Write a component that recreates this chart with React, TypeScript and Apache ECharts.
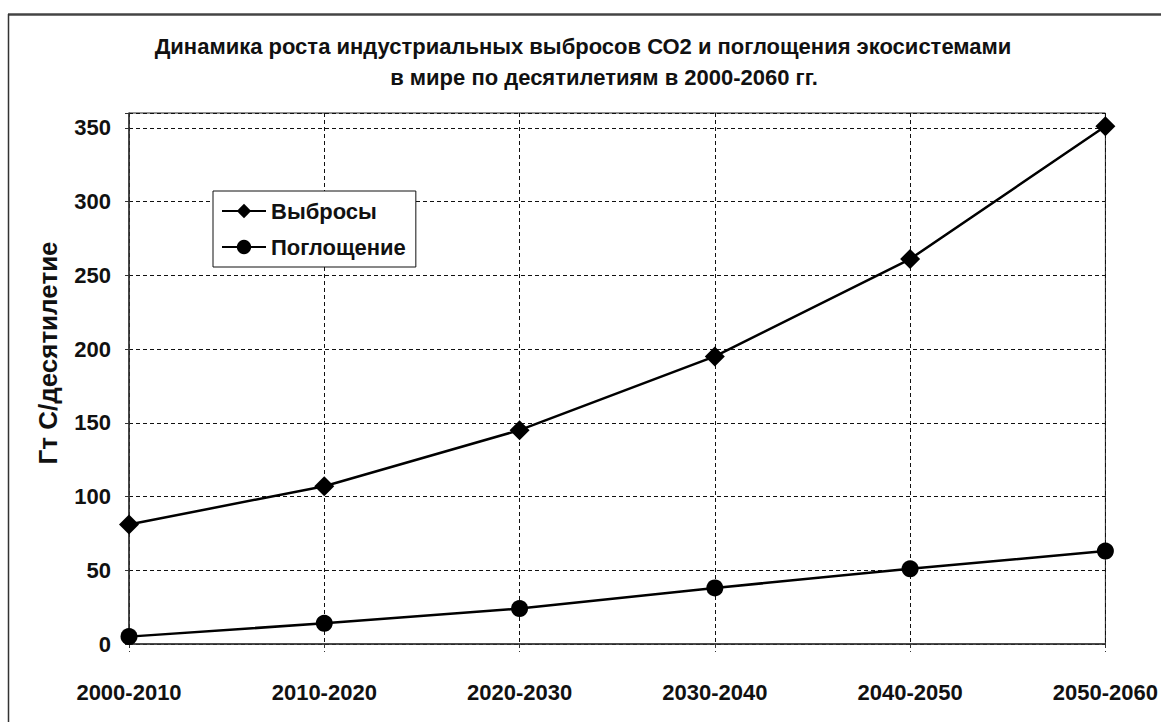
import React, { useEffect, useRef } from "react";
import * as echarts from "echarts";

// Decades on the horizontal axis
const decades = ["2000-2010", "2010-2020", "2020-2030", "2030-2040", "2040-2050", "2050-2060"];
// Industrial CO2 emissions, Gt C per decade
const emissions = [81, 107, 145, 195, 261, 351];
// Uptake by ecosystems, Gt C per decade
const uptake = [5, 14, 24, 38, 51, 63];

const titleLine1 = "Динамика роста индустриальных выбросов СО2 и поглощения экосистемами";
const titleLine2 = "в мире по десятилетиям в 2000-2060 гг.";
const yAxisTitle = "Гт С/десятилетие";
const seriesNames = ["Выбросы", "Поглощение"];

const FONT = "'Liberation Sans', Arial, sans-serif";

export default function App() {
  const ref = useRef<HTMLDivElement>(null);

  useEffect(() => {
    document.body.style.margin = "0";
    const chart = echarts.init(ref.current!, null, { renderer: "svg" });
    chart.setOption({
      animation: false,
      backgroundColor: "#ffffff",
      grid: {
        left: 129,
        right: 54,
        top: 113,
        bottom: 78,
        show: true,
        borderColor: "#222",
        borderWidth: 1,
        backgroundColor: "transparent",
      },
      legend: {
        left: 213,
        top: 191,
        orient: "vertical",
        backgroundColor: "#fff",
        borderColor: "#111",
        borderWidth: 1,
        padding: [9, 10, 9, 8],
        itemGap: 14,
        itemWidth: 44,
        itemHeight: 18,
        textStyle: { fontFamily: FONT, fontWeight: "bold", fontSize: 22, color: "#111" },
        data: seriesNames,
      },
      xAxis: {
        type: "category",
        data: decades,
        boundaryGap: false,
        axisLine: { lineStyle: { color: "#333", width: 1.5 } },
        axisTick: { show: true, length: 8, lineStyle: { color: "#333", type: [4, 3] } },
        axisLabel: {
          margin: 37,
          fontFamily: FONT,
          fontWeight: "bold",
          fontSize: 22,
          color: "#111",
          interval: 0,
        },
        splitLine: { show: true, lineStyle: { color: "#111", type: [4, 3], width: 1 } },
      },
      yAxis: {
        type: "value",
        min: 0,
        max: 360,
        interval: 50,
        axisLine: { show: true, lineStyle: { color: "#333", width: 1.5 } },
        axisTick: { show: true, length: 6, lineStyle: { color: "#333", type: [4, 3] } },
        axisLabel: {
          margin: 18,
          fontFamily: FONT,
          fontWeight: "bold",
          fontSize: 22,
          color: "#111",
          formatter: (v: number) => (v % 50 === 0 ? String(v) : ""),
        },
        splitLine: { show: true, lineStyle: { color: "#111", type: [4, 3], width: 1 } },
      },
      series: [
        {
          name: seriesNames[0],
          type: "line",
          data: emissions,
          symbol: "diamond",
          symbolSize: 20,
          lineStyle: { color: "#000", width: 2.5 },
          itemStyle: { color: "#000" },
        },
        {
          name: seriesNames[1],
          type: "line",
          data: uptake,
          symbol: "circle",
          symbolSize: 17,
          lineStyle: { color: "#000", width: 2.5 },
          itemStyle: { color: "#000" },
        },
      ],
      graphic: [
        { type: "line", shape: { x1: 8, y1: 14.5, x2: 1161, y2: 14.5 }, style: { stroke: "#444", lineWidth: 2.5 } },
        { type: "line", shape: { x1: 8.5, y1: 14, x2: 8.5, y2: 722 }, style: { stroke: "#333", lineWidth: 1.5 } },
        {
          type: "text",
          x: 583,
          y: 46,
          style: {
            text: titleLine1,
            align: "center",
            verticalAlign: "middle",
            fontFamily: FONT,
            fontWeight: "bold",
            fontSize: 22,
            fill: "#111",
          },
        },
        {
          type: "text",
          x: 604,
          y: 77,
          style: {
            text: titleLine2,
            align: "center",
            verticalAlign: "middle",
            fontFamily: FONT,
            fontWeight: "bold",
            fontSize: 22,
            fill: "#111",
          },
        },
        {
          type: "text",
          x: 48,
          y: 353,
          rotation: Math.PI / 2,
          style: {
            text: yAxisTitle,
            align: "center",
            verticalAlign: "middle",
            fontFamily: FONT,
            fontWeight: "bold",
            fontSize: 26,
            fill: "#111",
          },
        },
      ],
    });
    return () => chart.dispose();
  }, []);

  return <div ref={ref} style={{ position: "absolute", left: 0, top: 0, width: 1161, height: 722 }} />;
}
